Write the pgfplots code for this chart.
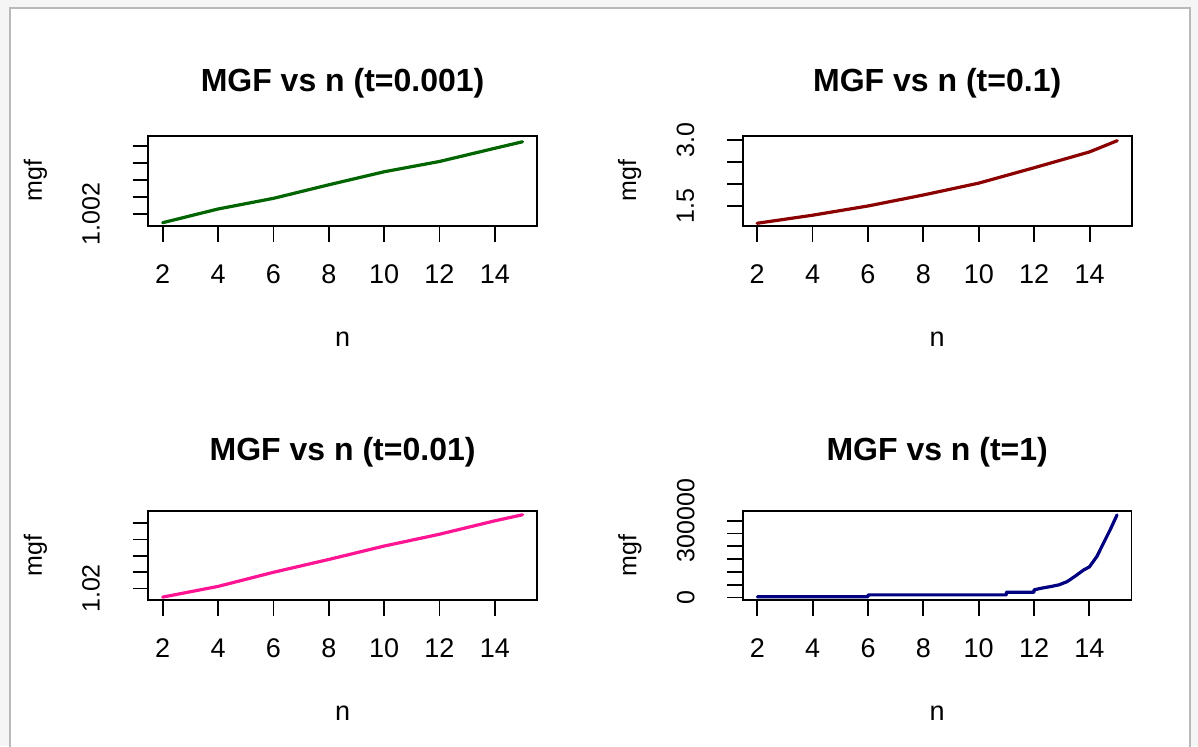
\documentclass[border=0pt]{standalone}
\usepackage{fontspec}
\setmainfont{Liberation Sans}
\usepackage{pgfplots}
\pgfplotsset{compat=1.18}
\definecolor{dgreen}{HTML}{006400}
\definecolor{dred}{HTML}{8B0000}
\definecolor{dpink}{HTML}{FF1493}
\definecolor{dnavy}{HTML}{000080}
\pgfplotsset{
  every axis title/.style={at={(axis description cs:0.5,1)}, anchor=base, yshift=22pt, font=\fontsize{16}{19}\selectfont\bfseries},
  every axis x label/.style={at={(axis description cs:0.5,0)}, anchor=base, yshift=-60pt, font=\fontsize{13.5}{16}\selectfont},
  every axis y label/.style={at={(axis description cs:0,0.5)}, xshift=-56.5pt, rotate=90, anchor=center, font=\fontsize{12.5}{15}\selectfont},
  mgf/.style={
    scale only axis, width=194.3pt, anchor=south west,
    xmin=1.48, xmax=15.52, xtick={2,4,6,8,10,12,14},
    scaled ticks=false,
    axis line style={line width=0.9pt},
    every tick/.style={black, line width=0.9pt},
    tick align=outside, major tick length=7.8pt,
    xtick pos=bottom, ytick pos=left,
    /pgf/number format/assume math mode=true,
    xticklabel style={font=\fontsize{13.5}{16}\selectfont, anchor=center, yshift=-16.4pt},
    yticklabel style={font=\fontsize{12.5}{15}\selectfont, xshift=-20.8pt, rotate=90, anchor=center},
    xlabel={n}, ylabel={mgf},
  },
  curve/.style={line width=1.6pt, line join=round, line cap=round, no marks},
}
\begin{document}
\begin{tikzpicture}
\useasboundingbox (0,0) rectangle (599pt,373pt);
\fill[gray!8] (0,0) rectangle (599pt,373pt);
\fill[white] (5pt,-5pt) rectangle (595pt,369pt);
\draw[gray!55, line width=1pt] (5pt,-5pt) -- (5pt,369pt) -- (595pt,369pt) -- (595pt,-5pt);

% Panel 1
\begin{axis}[mgf, at={(74.15pt,260pt)}, height=45.15pt,
  title={MGF vs n (t=0.001)},
  ymin=1.001318, ymax=1.006583,
  ytick={1.002,1.003,1.004,1.005,1.006}, yticklabels={1.002,,,,}]
\addplot[curve, dgreen] coordinates {
(2,1.00151) (4,1.00231) (6,1.00293) (8,1.00372) (10,1.00448) (12,1.00508) (14,1.00585) (15,1.00623)};
\end{axis}

% Panel 2
\begin{axis}[mgf, at={(371.35pt,260pt)}, height=45.15pt, width=194.5pt,
  title={MGF vs n (t=0.1)},
  ymin=1.045, ymax=3.098,
  ytick={1.5,2.0,2.5,3.0}, yticklabels={1.5,,,3.0}]
\addplot[curve, dred] coordinates {
(2,1.107) (4,1.29) (6,1.50) (8,1.75) (10,2.02) (12,2.37) (14,2.73) (15,2.985)};
\end{axis}

% Panel 3
\begin{axis}[mgf, at={(74.15pt,73pt)}, height=44.7pt,
  title={MGF vs n (t=0.01)}, title style={yshift=3pt},
  ymin=1.0129, ymax=1.0677,
  ytick={1.02,1.03,1.04,1.05,1.06}, yticklabels={1.02,,,,}]
\addplot[curve, dpink] coordinates {
(2,1.01468) (4,1.02124) (6,1.02989) (8,1.03775) (10,1.04597) (12,1.05321) (14,1.06144) (15,1.06515)};
\end{axis}

% Panel 4
\begin{axis}[mgf, at={(371.5pt,73pt)}, height=44.7pt, width=194.2pt,
  title={MGF vs n (t=1)}, title style={yshift=3pt},
  ymin=-9500, ymax=339000,
  ytick={0,50000,100000,150000,200000,250000,300000}, yticklabels={0,,,,,,300000}]
\addplot[curve, dnavy] coordinates {
(2,3000) (6,3000) (6,10500) (11,10500) (11,21000) (12,21000) (12,30000)
(12.27,36600) (12.6,42900) (12.9,49500) (13.2,62300) (13.5,84500) (13.8,108000)
(14.0,119600) (14.27,160000) (14.51,212000) (14.75,263800) (15,322000)};
\end{axis}
\end{tikzpicture}
\end{document}
